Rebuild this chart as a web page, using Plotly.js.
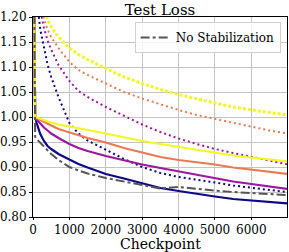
<!DOCTYPE html>
<html>
<head>
<meta charset="utf-8">
<script src="https://cdn.plot.ly/plotly-3.0.1.min.js"></script>
<style>html,body{margin:0;padding:0;background:#fff;}#chart{width:289px;height:252px;}</style>
</head>
<body>
<div id="chart"></div>
<script>
// Checkpoints (x values)
const checkpoints = [0, 60, 100, 200, 300, 400, 500, 700, 1000, 1250, 1500, 2000, 2500, 3000, 3500, 4000, 4500, 5000, 5500, 6000, 6500, 7000];

// Solid series
const navySolid   = [1.5, 1.000, 0.988, 0.966, 0.952, 0.942, 0.936, 0.926, 0.915, 0.906, 0.899, 0.886, 0.877, 0.867, 0.858, 0.852, 0.846, 0.841, 0.836, 0.833, 0.830, 0.827];
const purpleSolid = [1.5, 1.000, 0.995, 0.986, 0.979, 0.973, 0.967, 0.958, 0.946, 0.938, 0.932, 0.922, 0.913, 0.905, 0.898, 0.891, 0.884, 0.877, 0.871, 0.866, 0.861, 0.856];
const coralSolid  = [1.5, 1.000, 0.998, 0.994, 0.990, 0.986, 0.983, 0.976, 0.969, 0.963, 0.958, 0.949, 0.938, 0.929, 0.920, 0.914, 0.910, 0.905, 0.899, 0.895, 0.890, 0.886];
const yellowSolid = [1.5, 1.000, 0.999, 0.997, 0.994, 0.991, 0.989, 0.985, 0.981, 0.978, 0.974, 0.967, 0.959, 0.952, 0.946, 0.940, 0.934, 0.929, 0.923, 0.919, 0.915, 0.911];

// Dotted series
const navyDotted   = [2.0, 1.30, 1.24, 1.175, 1.140, 1.105, 1.080, 1.040, 0.988, 0.967, 0.953, 0.935, 0.916, 0.900, 0.888, 0.880, 0.875, 0.869, 0.863, 0.858, 0.854, 0.850];
const purpleDotted = [2.2, 1.35, 1.30, 1.215, 1.178, 1.153, 1.135, 1.104, 1.072, 1.052, 1.040, 1.020, 1.002, 0.985, 0.970, 0.957, 0.946, 0.936, 0.928, 0.920, 0.912, 0.905];
const coralDotted  = [2.4, 1.40, 1.33, 1.225, 1.195, 1.175, 1.160, 1.138, 1.110, 1.094, 1.084, 1.067, 1.050, 1.037, 1.025, 1.014, 1.004, 0.996, 0.988, 0.980, 0.973, 0.967];
const yellowDotted = [2.6, 1.45, 1.38, 1.260, 1.215, 1.195, 1.180, 1.160, 1.138, 1.125, 1.115, 1.097, 1.080, 1.067, 1.055, 1.045, 1.036, 1.028, 1.020, 1.014, 1.009, 1.004];

// Baseline
const noStabilization = [1.6, 0.960, 0.956, 0.948, 0.940, 0.932, 0.926, 0.914, 0.900, 0.893, 0.887, 0.878, 0.871, 0.864, 0.857, 0.860, 0.856, 0.853, 0.850, 0.848, 0.846, 0.844];

const xTickVals = [0, 1000, 2000, 3000, 4000, 5000, 6000];
const xTickText = ["0", "1000", "2000", "3000", "4000", "5000", "6000"];
const yTickVals = [0.80, 0.85, 0.90, 0.95, 1.00, 1.05, 1.10, 1.15, 1.20];
const yTickText = ["0.80", "0.85", "0.90", "0.95", "1.00", "1.05", "1.10", "1.15", "1.20"];

const C = {navy: '#0d0887', purple: '#9c179e', coral: '#ed7953', yellow: '#f0f921', gray: '#555555'};

function tr(y, color, width, dash, name, show) {
  return {x: checkpoints, y: y, type: 'scatter', mode: 'lines', name: name || '',
    showlegend: !!show, line: {color: color, width: width, dash: dash || 'solid'}, hoverinfo: 'skip'};
}

const data = [
  tr(navyDotted, C.navy, 2, '2px,3px'),
  tr(purpleDotted, C.purple, 2, '2px,3px'),
  tr(coralDotted, C.coral, 2, '2px,3px'),
  tr(yellowDotted, C.yellow, 3, '3px,2px'),
  tr(navySolid, C.navy, 2.2),
  tr(purpleSolid, C.purple, 2.2),
  tr(coralSolid, C.coral, 2.2),
  tr(yellowSolid, C.yellow, 2.2),
  tr(noStabilization, C.gray, 2, 'dashdot', 'No Stabilization', true)
];

const layout = {
  width: 289, height: 252,
  margin: {l: 33, r: 2, t: 17, b: 35},
  paper_bgcolor: '#fff', plot_bgcolor: '#fff',
  font: {family: 'DejaVu Serif', size: 12, color: '#000'},
  title: {text: 'Test Loss', font: {family: 'DejaVu Serif', size: 15, color: '#000'},
          xref: 'paper', x: 0.5, xanchor: 'center', yref: 'container', y: 0.962, yanchor: 'middle'},
  xaxis: {range: [0, 6980], tickvals: xTickVals, ticktext: xTickText,
          showgrid: true, gridcolor: '#c4c4c4', gridwidth: 1, zeroline: false,
          showline: true, linecolor: '#000', linewidth: 1, mirror: true,
          ticks: 'outside', ticklen: 2, tickcolor: '#000',
          tickfont: {family: 'DejaVu Serif', size: 12, color: '#000'}},
  yaxis: {range: [0.80, 1.20], tickvals: yTickVals, ticktext: yTickText,
          showgrid: true, gridcolor: '#c4c4c4', gridwidth: 1, zeroline: false,
          showline: true, linecolor: '#000', linewidth: 1, mirror: true,
          ticks: 'outside', ticklen: 3, tickcolor: '#000',
          tickfont: {family: 'DejaVu Serif', size: 12, color: '#000'}},
  annotations: [{text: 'Checkpoint', xref: 'paper', yref: 'paper', x: 0.5, y: -0.178,
                 xanchor: 'center', yanchor: 'bottom', showarrow: false, borderpad: 0,
                 font: {family: 'DejaVu Serif', size: 14, color: '#000'}}],
  showlegend: true,
  legend: {x: 0.975, xanchor: 'right', y: 0.975, yanchor: 'top',
           bgcolor: 'rgba(255,255,255,0.85)', bordercolor: '#d0d0d0', borderwidth: 1,
           font: {family: 'DejaVu Serif', size: 12, color: '#000'}, itemwidth: 30}
};

Plotly.newPlot('chart', data, layout, {staticPlot: true, displayModeBar: false});
</script>
</body>
</html>
